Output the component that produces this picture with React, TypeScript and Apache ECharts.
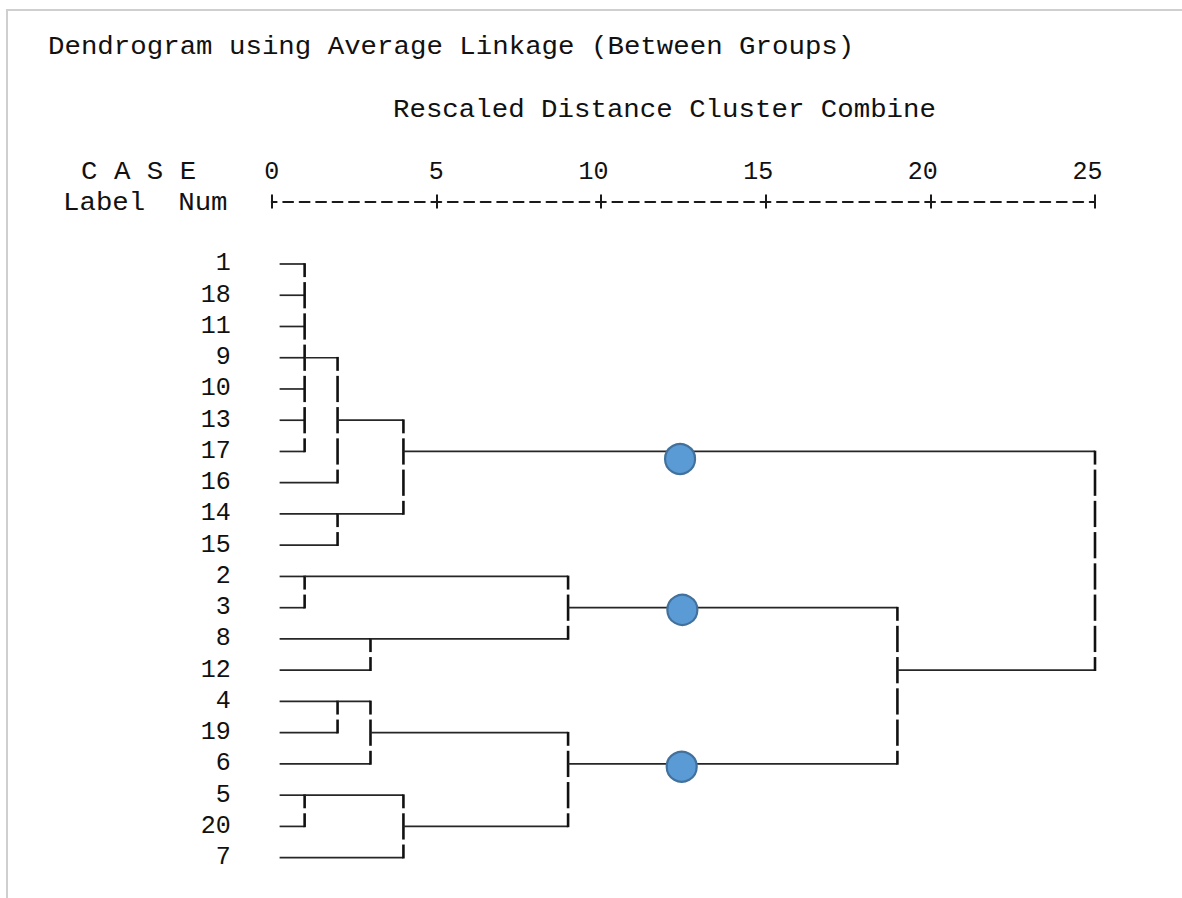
import React, { useEffect, useRef } from 'react';
import * as echarts from 'echarts';

// ---- data ----
const caseLabels = ['1', '18', '11', '9', '10', '13', '17', '16', '14', '15', '2', '3', '8', '12', '4', '19', '6', '5', '20', '7'];
const clusterIds = ['c1', 'c2', 'c3', 'c4', 'c5', 'c6', 'c7', 'c8', 'c9', 'c10', 'c11', 'c12', 'c13', 'c14'];
const clusterMembers = [
  ['1', '18', '11', '9', '10', '13', '17'],
  ['c1', '16'],
  ['14', '15'],
  ['c2', 'c3'],
  ['2', '3'],
  ['8', '12'],
  ['c5', 'c6'],
  ['4', '19'],
  ['c8', '6'],
  ['5', '20'],
  ['c10', '7'],
  ['c9', 'c11'],
  ['c7', 'c12'],
  ['c4', 'c13'],
];
const clusterHeights = [1, 2, 2, 4, 1, 3, 9, 2, 3, 1, 4, 9, 19, 25];
const leafStart = 0.24;
const axisTickValues = [0, 5, 10, 15, 20, 25];
const highlightX = [12.4, 12.47, 12.45];
const highlightRow = [6.24, 11.07, 16.09];

const titleText = 'Dendrogram using Average Linkage (Between Groups)';
const subtitleText = 'Rescaled Distance Cluster Combine';
const headerCase = 'C A S E';
const headerLabel = 'Label  Num';

const FONT = "'Liberation Mono', 'DejaVu Sans Mono', monospace";

function buildSegments(): number[][] {
  const pos: Record<string, { x: number; row: number }> = {};
  caseLabels.forEach((l, i) => {
    pos[l] = { x: leafStart, row: i };
  });
  const segs: number[][] = [];
  clusterIds.forEach((id, k) => {
    const h = clusterHeights[k];
    const kids = clusterMembers[k].map((m) => pos[m]);
    kids.forEach((c) => segs.push([c.x, c.row, h, c.row, 0]));
    const rows = kids.map((c) => c.row);
    const top = Math.min(...rows);
    const bot = Math.max(...rows);
    segs.push([h, top, h, bot, 1]);
    pos[id] = { x: h, row: Math.floor((top + bot) / 2) };
  });
  return segs;
}

export default function App() {
  const ref = useRef<HTMLDivElement>(null);

  useEffect(() => {
    if (!ref.current) return;
    const chart = echarts.init(ref.current, undefined, { renderer: 'svg' });
    const segments = buildSegments();
    const scaleX = 1.097;
    const textStyle = (text: string) => ({
      text,
      fontFamily: FONT,
      fontSize: 25,
      fill: '#111',
      align: 'left',
      verticalAlign: 'middle',
      textAlign: 'left',
      textVerticalAlign: 'middle',
    });

    const xMin = axisTickValues[0];
    const xMax = axisTickValues[axisTickValues.length - 1];
    const xInterval = axisTickValues[1] - axisTickValues[0];

    const option: any = {
      animation: false,
      backgroundColor: '#ffffff',
      grid: {
        left: 271.7,
        right: 87,
        top: 201.5,
        bottom: 9.1,
        containLabel: false,
        outerBoundsMode: 'none',
      },
      xAxis: [
        {
          type: 'value',
          position: 'top',
          min: xMin,
          max: xMax,
          interval: xInterval,
          axisLine: {
            show: true,
            onZero: false,
            lineStyle: { color: '#1a1a1a', width: 1.9, type: [10, 6.46], dashOffset: 5 },
          },
          axisTick: { show: true, inside: false, length: 7, lineStyle: { color: '#1a1a1a', width: 2 } },
          splitLine: { show: false },
          axisLabel: {
            show: true,
            margin: 29,
            verticalAlign: 'middle',
            align: 'center',
            color: '#111',
            fontFamily: FONT,
            fontSize: 25,
            formatter: (v: number) => (v >= 10 ? `{two|${v}}` : `{one|${v}}`),
            rich: {
              one: { fontFamily: FONT, fontSize: 25, color: '#111' },
              two: { fontFamily: FONT, fontSize: 25, color: '#111', padding: [0, 15, 0, 0] },
            },
          },
        },
        {
          type: 'value',
          position: 'top',
          min: xMin,
          max: xMax,
          interval: xInterval,
          axisLine: { show: false, onZero: false },
          axisTick: { show: true, inside: true, length: 7, lineStyle: { color: '#1a1a1a', width: 2 } },
          splitLine: { show: false },
          axisLabel: { show: false },
        },
      ],
      yAxis: {
        type: 'value',
        inverse: true,
        min: -2,
        max: 20,
        interval: 1,
        axisLine: { show: false, onZero: false },
        axisTick: { show: false },
        splitLine: { show: false },
        axisLabel: {
          show: true,
          margin: 41,
          align: 'right',
          verticalAlign: 'middle',
          color: '#111',
          fontFamily: FONT,
          fontSize: 25,
          padding: [3, 0, 0, 0],
          showMinLabel: true,
          showMaxLabel: true,
          formatter: (v: number) => (caseLabels[v] !== undefined ? caseLabels[v] : ''),
        },
      },
      graphic: [
        {
          type: 'rect',
          silent: true,
          z: -10,
          shape: { x: 7, y: 10, width: 1300, height: 1000 },
          style: { fill: 'none', stroke: '#cfcfcf', lineWidth: 2 },
        },
        { type: 'text', x: 48, y: 47, scaleX, style: textStyle(titleText) },
        { type: 'text', x: 393, y: 110, scaleX, style: textStyle(subtitleText) },
        { type: 'text', x: 81, y: 172, scaleX, style: textStyle(headerCase) },
        { type: 'text', x: 63, y: 203, scaleX, style: textStyle(headerLabel) },
      ],
      series: [
        {
          type: 'custom',
          xAxisIndex: 0,
          yAxisIndex: 0,
          data: segments,
          encode: { x: [0, 2], y: [1, 3] },
          renderItem: (params: any, api: any) => {
            const x1 = api.value(0);
            const y1 = api.value(1);
            const x2 = api.value(2);
            const y2 = api.value(3);
            const vert = api.value(4);
            if (!vert) {
              const p1 = api.coord([x1, y1]);
              const p2 = api.coord([x2, y2]);
              return {
                type: 'line',
                shape: { x1: p1[0], y1: p1[1], x2: p2[0], y2: p2[1] },
                style: { stroke: '#262626', lineWidth: 1.7 },
              };
            }
            const gap = 2.5;
            const p0 = api.coord([x1, y1]);
            const xp = p0[0];
            let start = p0[1] - 0.8;
            const children: any[] = [];
            for (let r = y1; r < y2; r++) {
              const mid = api.coord([x1, r + 0.5])[1];
              children.push({
                type: 'line',
                shape: { x1: xp, y1: start, x2: xp, y2: mid - gap },
                style: { stroke: '#111', lineWidth: 2.6 },
              });
              start = mid + gap;
            }
            children.push({
              type: 'line',
              shape: { x1: xp, y1: start, x2: xp, y2: api.coord([x1, y2])[1] + 0.8 },
              style: { stroke: '#111', lineWidth: 2.6 },
            });
            return { type: 'group', children };
          },
          z: 2,
        },
        {
          type: 'scatter',
          xAxisIndex: 0,
          yAxisIndex: 0,
          data: highlightX.map((x, i) => [x, highlightRow[i]]),
          symbol: 'circle',
          symbolSize: 30,
          itemStyle: { color: '#5B9BD5', borderColor: '#41719C', borderWidth: 2.2, opacity: 1 },
          z: 5,
        },
      ],
    };

    chart.setOption(option);
    return () => {
      chart.dispose();
    };
  }, []);

  return (
    <div
      ref={ref}
      style={{ position: 'fixed', left: 0, top: 0, width: 1182, height: 898, background: '#fff' }}
    />
  );
}
